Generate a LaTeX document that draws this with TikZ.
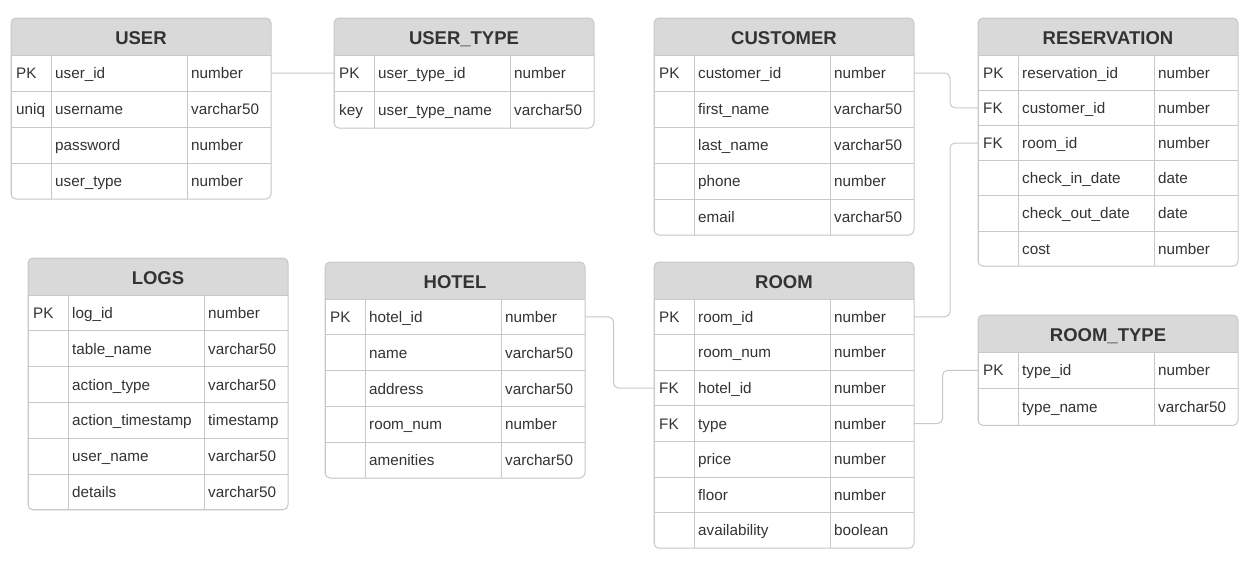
\documentclass[tikz,border=0pt]{standalone}
\usepackage{fontspec}
\setmainfont{Liberation Sans}
\definecolor{hdrfill}{RGB}{217,217,217}
\definecolor{linecol}{RGB}{200,200,200}
\definecolor{txtcol}{RGB}{51,51,51}
\tikzset{
  rowbox/.style={draw=linecol, line width=1pt, minimum width=260pt, inner sep=0pt, outer sep=0pt},
  cell/.style={anchor=base west, inner sep=0pt, text=txtcol, font=\fontsize{15.25}{17}\selectfont},
  hdrtext/.style={anchor=base, inner sep=0pt, text=txtcol, font=\fontsize{18.5}{20}\selectfont\bfseries},
  conn/.style={draw=linecol, line width=1pt, rounded corners=5pt},
}
\newcommand{\dbtab}[7]{%
  % #1 name, #2 title, #3 x, #4 ytop, #5 header height, #6 row height, #7 rows
  \begin{scope}[shift={(#3,#4)}]
    \foreach \k/\n/\t [count=\i] in {#7} {\xdef\nrows{\i}}
    \pgfmathsetmacro\tabh{#5+\nrows*#6}
    \begin{scope}
      \clip[rounded corners=5pt] (0,0) rectangle (260,\tabh);
      \fill[white] (0,0) rectangle (260,\tabh);
      \fill[hdrfill] (0,0) rectangle (260,#5);
      \foreach \k/\n/\t [count=\i] in {#7} {
        \pgfmathsetmacro\yc{#5+(\i-0.5)*#6}
        \node[rowbox, minimum height=#6*1pt] (#1-\i) at (130,\yc) {};
        \node[cell] at (5,\yc+5.5) {\k};
        \node[cell] at (44,\yc+5.5) {\n};
        \node[cell] at (180,\yc+5.5) {\t};
      }
      \draw[linecol, line width=1pt] (0,#5) -- (260,#5);
      \draw[linecol, line width=1pt] (40,#5) -- (40,\tabh);
      \draw[linecol, line width=1pt] (176,#5) -- (176,\tabh);
    \end{scope}
    \node[hdrtext] (#1) at (130,#5/2+7.5) {#2};
    \draw[linecol, line width=1pt, rounded corners=5pt] (0,0) rectangle (260,\tabh);
  \end{scope}
}
\begin{document}
\begin{tikzpicture}[x=1pt, y=-1pt]
\useasboundingbox (0,0) rectangle (1252,562);
\fill[white] (0,0) rectangle (1252,562);

\dbtab{user}{USER}{11}{18}{37}{36}{PK/user\_id/number, uniq/username/varchar50, /password/number, /user\_type/number}
\dbtab{usertype}{USER\_TYPE}{334}{18}{37}{36.5}{PK/user\_type\_id/number, key/user\_type\_name/varchar50}
\dbtab{customer}{CUSTOMER}{654}{18}{37}{36}{PK/customer\_id/number, /first\_name/varchar50, /last\_name/varchar50, /phone/number, /email/varchar50}
\dbtab{reservation}{RESERVATION}{978}{18}{37}{35.2}{PK/reservation\_id/number, FK/customer\_id/number, FK/room\_id/number, /check\_in\_date/date, /check\_out\_date/date, /cost/number}
\dbtab{logs}{LOGS}{28}{258}{37}{35.8}{PK/log\_id/number, /table\_name/varchar50, /action\_type/varchar50, /action\_timestamp/timestamp, /user\_name/varchar50, /details/varchar50}
\dbtab{hotel}{HOTEL}{325}{262}{37}{35.8}{PK/hotel\_id/number, /name/varchar50, /address/varchar50, /room\_num/number, /amenities/varchar50}
\dbtab{room}{ROOM}{654}{262}{37}{35.6}{PK/room\_id/number, /room\_num/number, FK/hotel\_id/number, FK/type/number, /price/number, /floor/number, /availability/boolean}
\dbtab{roomtype}{ROOM\_TYPE}{978}{315}{37}{36.7}{PK/type\_id/number, /type\_name/varchar50}

\draw[conn] (user-1.east) -- (usertype-1.west);
\draw[conn] (customer-1.east) -- ++(36,0) |- (reservation-2.west);
\draw[conn] (reservation-3.west) -- ++(-28,0) |- (room-1.east);
\draw[conn] (hotel-1.east) -- ++(28.5,0) |- (room-3.west);
\draw[conn] (room-4.east) -- ++(28.5,0) |- (roomtype-1.west);
\end{tikzpicture}
\end{document}
